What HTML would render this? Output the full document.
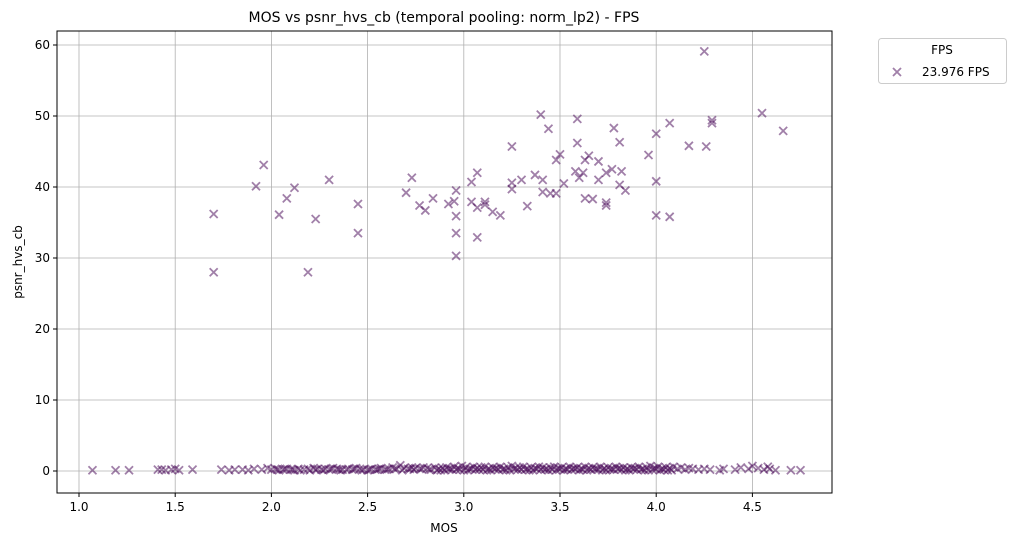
<!DOCTYPE html>
<html><head><meta charset="utf-8"><style>
body{margin:0;background:#fff;font-family:"Liberation Sans","DejaVu Sans",sans-serif}
svg text{font-family:"DejaVu Sans","Liberation Sans",sans-serif}
</style></head><body>
<svg id="chart" width="1016" height="545" xmlns="http://www.w3.org/2000/svg">
<rect width="1016" height="545" fill="#fff"/>
<g id="grid"></g>
<g id="pts"></g>
<rect x="57" y="31" width="775" height="462" fill="none" stroke="#000" stroke-width="1"/>
<g id="ticks"></g>
<text x="444" y="22" font-size="14" text-anchor="middle">MOS vs psnr_hvs_cb (temporal pooling: norm_lp2) - FPS</text>
<text x="444" y="532" font-size="12" text-anchor="middle">MOS</text>
<text transform="translate(22,262) rotate(-90)" font-size="12" text-anchor="middle">psnr_hvs_cb</text>
<g>
<rect x="878.5" y="38.5" width="128" height="45" rx="3" fill="#fff" stroke="#ccc"/>
<text x="942" y="54" font-size="12" text-anchor="middle">FPS</text>
<path d="M893,68 l8,8 M901,68 l-8,8" stroke="#440154" stroke-opacity="0.5" stroke-width="1.8"/>
<text x="922" y="76" font-size="12">23.976 FPS</text>
</g>
</svg>
<script>
const xTicks=[1.0,1.5,2.0,2.5,3.0,3.5,4.0,4.5];
const yTicks=[0,10,20,30,40,50,60];
const upperMos=[1.70,1.70,1.92,1.96,2.04,2.08,2.12,2.19,2.23,2.30,2.45,2.45,2.70,2.73,2.77,2.80,2.84,2.92,2.95,2.96,2.96,2.96,2.96,3.04,3.04,3.07,3.07,3.07,3.11,3.11,3.15,3.19,3.25,3.25,3.25,3.30,3.33,3.37,3.40,3.41,3.41,3.44,3.45,3.48,3.48,3.50,3.52,3.58,3.59,3.59,3.60,3.62,3.63,3.63,3.65,3.67,3.70,3.70,3.74,3.74,3.74,3.77,3.78,3.81,3.81,3.82,3.84,3.96,4.00,4.00,4.00,4.07,4.07,4.17,4.25,4.26,4.29,4.29,4.55,4.66];
const upperVal=[36.2,28.0,40.1,43.1,36.1,38.4,39.9,28.0,35.5,41.0,37.6,33.5,39.2,41.3,37.4,36.7,38.4,37.6,38.0,39.5,35.9,33.5,30.3,40.7,37.9,42.0,37.1,32.9,37.9,37.5,36.5,36.0,45.7,40.6,39.7,41.0,37.3,41.7,50.2,41.0,39.3,48.2,39.1,39.1,43.8,44.6,40.5,42.2,49.6,46.2,41.3,42.0,43.8,38.4,44.4,38.3,43.6,41.0,42.0,37.8,37.4,42.5,48.3,46.3,40.3,42.2,39.5,44.5,47.5,40.8,36.0,49.0,35.8,45.8,59.1,45.7,49.4,49.0,50.4,47.9];
const lowerMos=[1.07,1.19,1.26,1.41,1.43,1.45,1.48,1.50,1.52,1.59,1.74,1.78,1.81,1.85,1.88,1.91,1.95,1.98,2.00,2.02,2.04,2.06,2.08,2.10,2.12,2.14,2.17,2.20,2.22,2.24,2.26,2.28,2.30,2.32,2.34,2.37,2.40,2.42,2.44,2.46,2.48,2.50,2.52,2.55,2.57,2.59,2.61,2.63,2.65,2.67,2.69,2.71,2.73,2.75,2.77,2.79,2.81,2.83,2.85,2.87,2.89,2.91,2.93,2.95,2.97,2.99,3.01,3.03,3.05,3.07,3.09,3.11,3.13,3.15,3.17,3.19,3.21,3.23,3.25,3.27,3.29,3.31,3.33,3.35,3.37,3.39,3.41,3.43,3.45,3.47,3.49,3.51,3.53,3.55,3.57,3.59,3.61,3.63,3.65,3.67,3.69,3.71,3.73,3.75,3.77,3.79,3.81,3.83,3.85,3.87,3.89,3.91,3.93,3.95,3.97,3.99,4.01,4.03,4.05,4.07,4.09,4.11,4.13,4.15,4.17,4.19,4.22,4.25,4.28,4.33,4.35,4.41,4.44,4.48,4.50,4.53,4.56,4.58,4.59,4.62,4.70,4.75,2.90,2.96,3.00,3.06,3.12,3.18,3.24,3.30,3.36,3.42,3.48,3.54,3.60,3.66,3.72,3.78,3.84,3.90,3.96,4.02,4.08,2.36,2.54,2.72,2.86,
2.03,2.07,2.11,2.15,2.19,2.23,2.27,2.31,2.35,2.39,2.43,2.47,2.51,2.56,2.60,2.64,2.68,2.74,2.78,2.82,2.88,2.92,2.94,2.98,3.02,3.04,3.08,3.10,3.14,3.16,3.20,3.22,3.26,3.28,3.32,3.34,3.38,3.40,3.44,3.46,3.50,3.52,3.56,3.58,3.62,3.64,3.68,3.70,3.74,3.76,3.80,3.82,3.86,3.88,3.92,3.94,3.98,4.00,4.04,4.06,4.10,4.12,4.16];
const lowerVal=[0.1,0.1,0.1,0.2,0.2,0.1,0.2,0.3,0.1,0.2,0.2,0.1,0.2,0.2,0.1,0.3,0.2,0.4,0.2,0.3,0.1,0.2,0.3,0.2,0.1,0.3,0.2,0.1,0.4,0.3,0.2,0.3,0.2,0.4,0.3,0.2,0.3,0.2,0.4,0.3,0.2,0.1,0.3,0.2,0.4,0.2,0.3,0.5,0.3,0.8,0.4,0.3,0.5,0.4,0.3,0.5,0.4,0.2,0.5,0.3,0.4,0.5,0.3,0.6,0.4,0.7,0.5,0.3,0.6,0.4,0.5,0.6,0.3,0.5,0.4,0.6,0.3,0.5,0.7,0.4,0.5,0.6,0.3,0.5,0.4,0.6,0.5,0.3,0.5,0.6,0.4,0.5,0.3,0.6,0.4,0.5,0.3,0.6,0.4,0.5,0.3,0.6,0.4,0.5,0.3,0.6,0.4,0.5,0.3,0.5,0.4,0.6,0.3,0.5,0.7,0.4,0.6,0.3,0.5,0.4,0.6,0.3,0.5,0.2,0.4,0.3,0.2,0.3,0.2,0.1,0.3,0.2,0.5,0.3,0.7,0.4,0.2,0.6,0.3,0.1,0.1,0.1,0.1,0.2,0.1,0.2,0.1,0.2,0.1,0.2,0.1,0.2,0.1,0.2,0.1,0.2,0.1,0.2,0.1,0.2,0.1,0.1,0.1,0.1,
0.2,0.3,0.1,0.2,0.3,0.2,0.1,0.3,0.2,0.1,0.3,0.2,0.2,0.3,0.1,0.2,0.3,0.2,0.3,0.1,0.2,0.3,0.2,0.1,0.3,0.2,0.2,0.1,0.3,0.2,0.2,0.1,0.3,0.2,0.1,0.3,0.2,0.2,0.1,0.3,0.2,0.1,0.2,0.3,0.1,0.2,0.3,0.2,0.1,0.3,0.2,0.1,0.2,0.3,0.2,0.1,0.3,0.2,0.1,0.2,0.3,0.2,0.1];
const NS="http://www.w3.org/2000/svg";
const X0=57,X1=832,Y0=31,Y1=493;
const xs=v=>79+(v-1)*192.4;
const ys=v=>471-v*7.1;
const grid=document.getElementById('grid'),tk=document.getElementById('ticks'),pts=document.getElementById('pts');
function mk(tag,attrs,parent){const e=document.createElementNS(NS,tag);for(const k in attrs)e.setAttribute(k,attrs[k]);parent.appendChild(e);return e;}
xTicks.forEach(t=>{const x=xs(t);
const g=mk('line',{x1:x,x2:x,y1:Y0,y2:Y1,stroke:'#b0b0b0','stroke-width':0.8},grid);


mk('line',{x1:x,x2:x,y1:Y1,y2:Y1+4,stroke:'#000'},tk);
const tx=mk('text',{x:x,y:Y1+18,'font-size':12,'text-anchor':'middle'},tk);tx.textContent=t.toFixed(1);

});
yTicks.forEach(t=>{const y=ys(t);
const g=mk('line',{x1:X0,x2:X1,y1:y,y2:y,stroke:'#b0b0b0','stroke-width':0.8},grid);


mk('line',{x1:X0-4,x2:X0,y1:y,y2:y,stroke:'#000'},tk);
const tx=mk('text',{x:X0-7,y:y+4,'font-size':12,'text-anchor':'end'},tk);tx.textContent=t;

});
function drawX(m,v){const x=xs(m),y=ys(v);
const p=mk('path',{d:`M${x-4},${y-4}l8,8M${x+4},${y-4}l-8,8`,stroke:'#440154','stroke-opacity':0.5,'stroke-width':1.8,fill:'none'},pts);

}
upperMos.forEach((m,i)=>drawX(m,upperVal[i]));
lowerMos.forEach((m,i)=>drawX(m,lowerVal[i]));
</script>
</body></html>
